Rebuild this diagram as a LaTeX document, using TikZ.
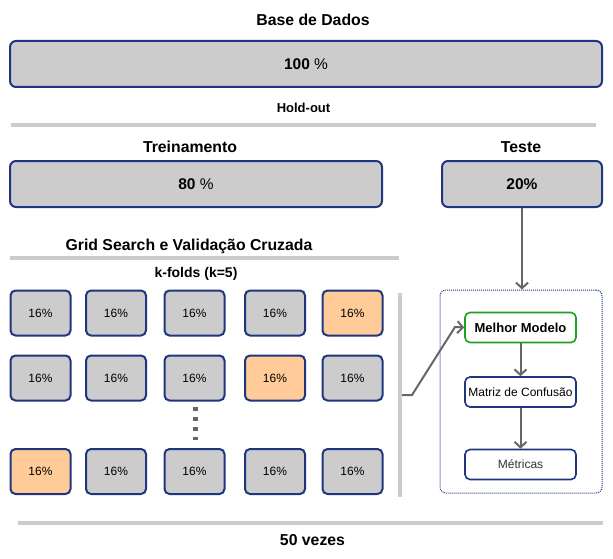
\documentclass[tikz,border=0pt]{standalone}
\usepackage{fontspec}
\setmainfont{Liberation Sans}
\usetikzlibrary{arrows.meta}
\definecolor{bdr}{HTML}{1F3580}
\definecolor{boxgray}{HTML}{CCCCCC}
\definecolor{orng}{HTML}{FFCC99}
\definecolor{arr}{HTML}{666666}
\definecolor{grn}{HTML}{1EA01E}
\begin{document}
\begin{tikzpicture}[x=1pt,y=-1pt,
  bigbox/.style={draw=bdr,line width=2pt,fill=boxgray,rounded corners=6pt,inner sep=0pt,minimum height=46pt,font=\fontsize{15.5}{18}\selectfont\bfseries},
  fold/.style={draw=bdr,line width=2pt,fill=boxgray,rounded corners=5pt,minimum width=60pt,minimum height=45pt,inner sep=0pt,font=\fontsize{12}{14}\selectfont},
  test/.style={fold,fill=orng},
  wbox/.style={draw=bdr,line width=1.6pt,fill=white,rounded corners=5pt,minimum width=111pt,minimum height=30pt,inner sep=0pt,font=\fontsize{12}{14}\selectfont},
  title/.style={font=\fontsize{15.8}{18}\selectfont\bfseries},
  sub/.style={font=\fontsize{13}{15}\selectfont\bfseries},
  sep/.style={draw=boxgray,line width=4pt},
  arrow/.style={draw=arr,line width=2pt,-{Straight Barb[length=5.5pt,width=12pt]}}
]
\useasboundingbox (0,0) rectangle (613,559);

\node[title] (tbase) at (313,20) {Base de Dados};
\node[bigbox,minimum width=592pt] (b100) at (306,64) {100 {\mdseries\%}};
\node[sub] (hold) at (303.5,108) {Hold-out};
\draw[sep] (11,125) coordinate (s1a) -- (596,125) coordinate (s1b);

\node[title] (ttrein) at (190,147) {Treinamento};
\node[bigbox,minimum width=372pt] (b80) at (196,184) {80 {\mdseries\%}};
\node[title] (tteste) at (521,147) {Teste};
\node[bigbox,minimum width=160pt] (b20) at (522,184) {20\%};

\node[title] (tgrid) at (189,246) {Grid Search e Validação Cruzada};
\draw[sep,line width=3.5pt] (10,258) coordinate (s2a) -- (399,258) coordinate (s2b);
\node[sub,font=\fontsize{14}{16}\selectfont\bfseries] (kf) at (196,274) {k-folds (k=5)};

% row 1
\node[fold] (r1c1) at (40.5,313) {16\%};
\node[fold] (r1c2) at (116,313) {16\%};
\node[fold] (r1c3) at (194.5,313) {16\%};
\node[fold] (r1c4) at (275,313) {16\%};
\node[test] (r1c5) at (352.5,313) {16\%};
% row 2
\node[fold] (r2c1) at (40.5,378) {16\%};
\node[fold] (r2c2) at (116,378) {16\%};
\node[fold] (r2c3) at (194.5,378) {16\%};
\node[test] (r2c4) at (275,378) {16\%};
\node[fold] (r2c5) at (352.5,378) {16\%};
% row 3
\node[test] (r3c1) at (40.5,471.5) {16\%};
\node[fold] (r3c2) at (116,471.5) {16\%};
\node[fold] (r3c3) at (194.5,471.5) {16\%};
\node[fold] (r3c4) at (275,471.5) {16\%};
\node[fold] (r3c5) at (352.5,471.5) {16\%};

\draw[draw=arr,line width=5pt,dash pattern=on 4pt off 6pt] (195,407) coordinate (d1) -- (195,440) coordinate (d2);

\draw[sep] (400,293) coordinate (va) -- (400,497) coordinate (vb);

% test container
\node[draw=bdr,densely dotted,line width=1pt,rounded corners=6pt,minimum width=162pt,minimum height=203pt,inner sep=0pt] (cont) at (521,391.5) {};
\node[wbox,draw=grn,font=\fontsize{13}{15}\selectfont\bfseries] (melhor) at (520.5,327.5) {Melhor Modelo};
\node[wbox] (matriz) at (520.5,392) {Matriz de Confusão};
\node[wbox,text=black!80] (metr) at (520.5,464.5) {Métricas};

\draw[arrow] (b20.south) -- (b20.south |- cont.north);
\draw[arrow] (melhor) -- (matriz);
\draw[arrow] (matriz) -- (metr);
\coordinate (ast) at (402,395);
\draw[arrow] (ast) -- (412,395) -- (455,327) -- (melhor.west);

\draw[sep,line width=3.5pt] (18,523) coordinate (s3a) -- (603,523) coordinate (s3b);
\node[title] (vezes) at (312.5,540) {50 vezes};
\end{tikzpicture}
\end{document}
